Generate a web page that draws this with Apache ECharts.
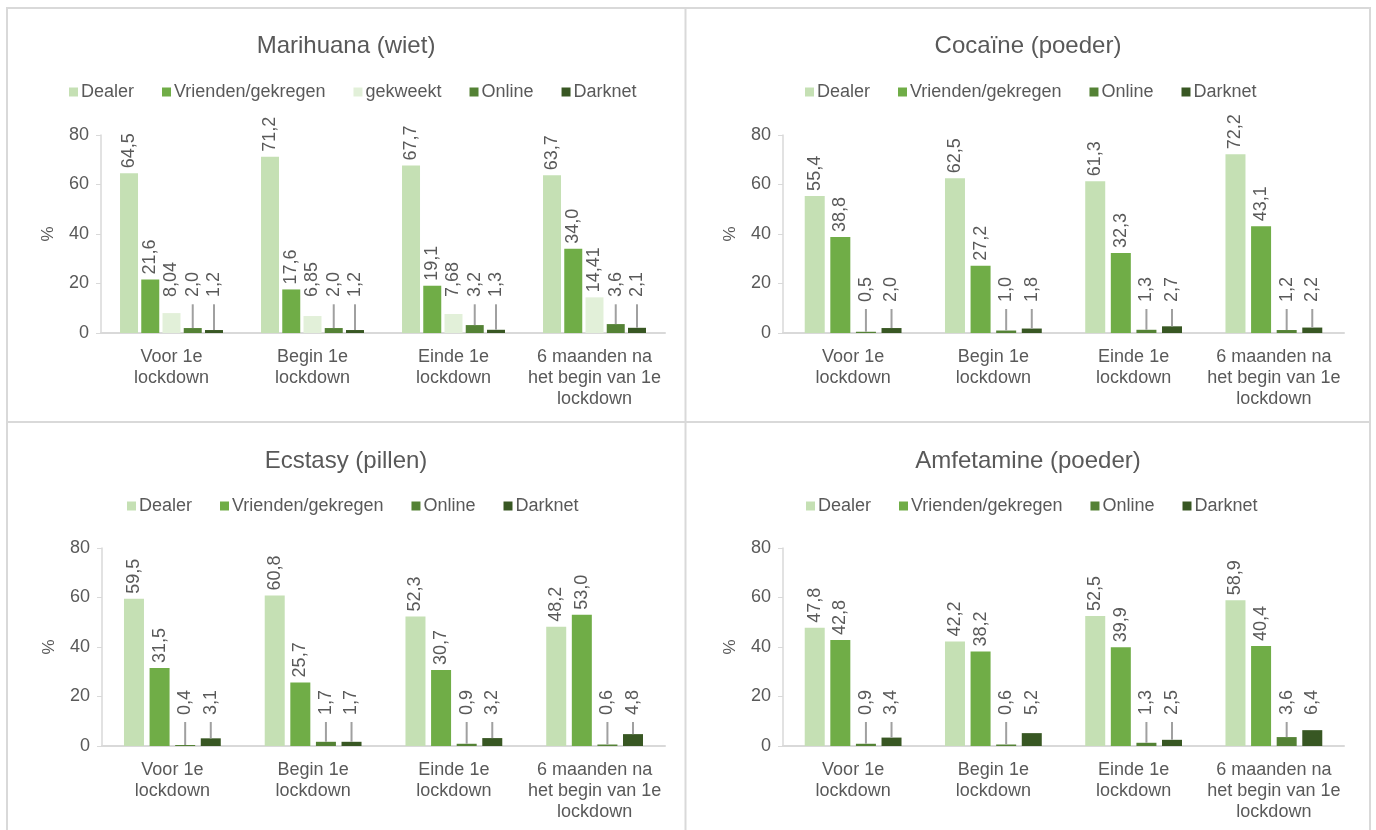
<!DOCTYPE html>
<html>
<head>
<meta charset="utf-8">
<script src="https://cdn.jsdelivr.net/npm/echarts@6/dist/echarts.min.js"></script>
<style>
  html, body { margin: 0; padding: 0; background: #ffffff; }
  #chart { width: 1376px; height: 830px; }
</style>
</head>
<body>
<div id="chart"></div>
<script>
// Periods on the category axis
const periods = ['Voor 1e\nlockdown', 'Begin 1e\nlockdown', 'Einde 1e\nlockdown', '6 maanden na\nhet begin van 1e\nlockdown'];

// Marihuana (wiet)
const wietDealer    = [64.5, 71.2, 67.7, 63.7];
const wietVrienden  = [21.6, 17.6, 19.1, 34.0];
const wietGekweekt  = [8.04, 6.85, 7.68, 14.41];
const wietOnline    = [2.0, 2.0, 3.2, 3.6];
const wietDarknet   = [1.2, 1.2, 1.3, 2.1];

// Cocaïne (poeder)
const cokeDealer    = [55.4, 62.5, 61.3, 72.2];
const cokeVrienden  = [38.8, 27.2, 32.3, 43.1];
const cokeOnline    = [0.5, 1.0, 1.3, 1.2];
const cokeDarknet   = [2.0, 1.8, 2.7, 2.2];

// Ecstasy (pillen)
const xtcDealer     = [59.5, 60.8, 52.3, 48.2];
const xtcVrienden   = [31.5, 25.7, 30.7, 53.0];
const xtcOnline     = [0.4, 1.7, 0.9, 0.6];
const xtcDarknet    = [3.1, 1.7, 3.2, 4.8];

// Amfetamine (poeder)
const speedDealer   = [47.8, 42.2, 52.5, 58.9];
const speedVrienden = [42.8, 38.2, 39.9, 40.4];
const speedOnline   = [0.9, 0.6, 1.3, 3.6];
const speedDarknet  = [3.4, 5.2, 2.5, 6.4];

const yTicks = [0, 20, 40, 60, 80];

const COLORS = {
  'Dealer': '#c5e0b4',
  'Vrienden/gekregen': '#70ad47',
  'gekweekt': '#e2f0d9',
  'Online': '#548235',
  'Darknet': '#385723'
};
const TEXT = '#595959';
const FONT = "'Liberation Sans', Arial, sans-serif";

const GRID_H = 198;
const PPU = GRID_H / 80; // pixels per percentage point

const panels = [
  { title: 'Marihuana (wiet)', cx: 346, titleY: 34, legendY: 83, legendLeft: 69,
    grid: { left: 101, top: 135, width: 564, height: GRID_H },
    barWidth: 18, barGap: '18%', lineTop: 11.6, textAt: 14.5,
    series: [['Dealer', wietDealer, 1], ['Vrienden/gekregen', wietVrienden, 1], ['gekweekt', wietGekweekt, 2], ['Online', wietOnline, 1], ['Darknet', wietDarknet, 1]] },
  { title: 'Cocaïne (poeder)', cx: 1028, titleY: 34, legendY: 83, legendLeft: 805,
    grid: { left: 783, top: 135, width: 561, height: GRID_H },
    barWidth: 20, barGap: '28%', lineTop: 9.7, textAt: 12.5,
    series: [['Dealer', cokeDealer, 1], ['Vrienden/gekregen', cokeVrienden, 1], ['Online', cokeOnline, 1], ['Darknet', cokeDarknet, 1]] },
  { title: 'Ecstasy (pillen)', cx: 346, titleY: 449, legendY: 497, legendLeft: 127,
    grid: { left: 102, top: 548, width: 563, height: GRID_H },
    barWidth: 20, barGap: '28%', lineTop: 9.7, textAt: 12.5,
    series: [['Dealer', xtcDealer, 1], ['Vrienden/gekregen', xtcVrienden, 1], ['Online', xtcOnline, 1], ['Darknet', xtcDarknet, 1]] },
  { title: 'Amfetamine (poeder)', cx: 1028, titleY: 449, legendY: 497, legendLeft: 806,
    grid: { left: 783, top: 548, width: 561, height: GRID_H },
    barWidth: 20, barGap: '28%', lineTop: 9.7, textAt: 12.5,
    series: [['Dealer', speedDealer, 1], ['Vrienden/gekregen', speedVrienden, 1], ['Online', speedOnline, 1], ['Darknet', speedDarknet, 1]] }
];

// Rotated value label; small values get a grey leader line up to a common label height
function valueLabel(v, dec, p) {
  const txt = v.toFixed(dec).replace('.', ',');
  if (v < 5) {
    return {
      formatter: '{ln|}{sp|}' + txt,
      rich: {
        ln: { width: (p.lineTop - v) * PPU, height: 2, backgroundColor: '#a0a0a0', verticalAlign: 'middle' },
        sp: { width: (p.textAt - p.lineTop) * PPU }
      }
    };
  }
  return {
    formatter: '{sp|}' + txt,
    rich: { sp: { width: Math.max(5, (p.textAt - v) * PPU) } }
  };
}

const option = {
  animation: false,
  backgroundColor: '#ffffff',
  textStyle: { fontFamily: FONT },
  title: [],
  legend: [],
  grid: [],
  xAxis: [],
  yAxis: [],
  series: [],
  graphic: [
    { type: 'rect', shape: { x: 7, y: 8, width: 1363, height: 840 }, style: { fill: 'none', stroke: '#d9d9d9', lineWidth: 2 }, silent: true },
    { type: 'line', shape: { x1: 685.5, y1: 8, x2: 685.5, y2: 848 }, style: { stroke: '#d9d9d9', lineWidth: 2 }, silent: true },
    { type: 'line', shape: { x1: 7, y1: 422, x2: 1370, y2: 422 }, style: { stroke: '#d9d9d9', lineWidth: 2 }, silent: true }
  ]
};

panels.forEach((p, i) => {
  option.title.push({
    text: p.title, left: p.cx, top: p.titleY, textAlign: 'center', padding: 0,
    textStyle: { color: TEXT, fontSize: 24, fontWeight: 'normal', fontFamily: FONT }
  });
  option.legend.push({
    data: p.series.map(s => s[0]),
    left: p.legendLeft, top: p.legendY, padding: 0,
    icon: 'rect', itemWidth: 9, itemHeight: 9, itemGap: 28,
    textStyle: { color: TEXT, fontSize: 18, fontFamily: FONT, padding: [0, 0, 0, -2] },
    selectedMode: false
  });
  option.grid.push(Object.assign({ containLabel: false }, p.grid));
  option.xAxis.push({
    type: 'category', gridIndex: i, data: periods,
    axisLine: { lineStyle: { color: '#d9d9d9', width: 2 } },
    axisTick: { show: false },
    axisLabel: { interval: 0, color: TEXT, fontSize: 18, lineHeight: 21, margin: 14, fontFamily: FONT }
  });
  option.yAxis.push({
    type: 'value', gridIndex: i, min: yTicks[0], max: yTicks[yTicks.length - 1], interval: 20,
    name: '%', nameLocation: 'middle', nameGap: 44,
    nameTextStyle: { color: TEXT, fontSize: 17, fontFamily: FONT },
    axisLine: { show: true, lineStyle: { color: '#d9d9d9', width: 1.5 } },
    axisTick: { show: true, length: 5, lineStyle: { color: '#d9d9d9' } },
    splitLine: { show: false },
    axisLabel: { color: TEXT, fontSize: 18, margin: 12, fontFamily: FONT }
  });
  p.series.forEach(([name, values, dec]) => {
    option.series.push({
      type: 'bar', name: name, xAxisIndex: i, yAxisIndex: i,
      barWidth: p.barWidth, barGap: p.barGap,
      itemStyle: { color: COLORS[name] },
      label: {
        show: true, position: 'top', distance: 0, rotate: 90,
        align: 'left', verticalAlign: 'middle',
        color: TEXT, fontSize: 18, fontFamily: FONT
      },
      data: values.map(v => ({ value: v, label: valueLabel(v, dec, p) }))
    });
  });
});

const chart = echarts.init(document.getElementById('chart'), null, { renderer: 'canvas' });
chart.setOption(option);
</script>
</body>
</html>
